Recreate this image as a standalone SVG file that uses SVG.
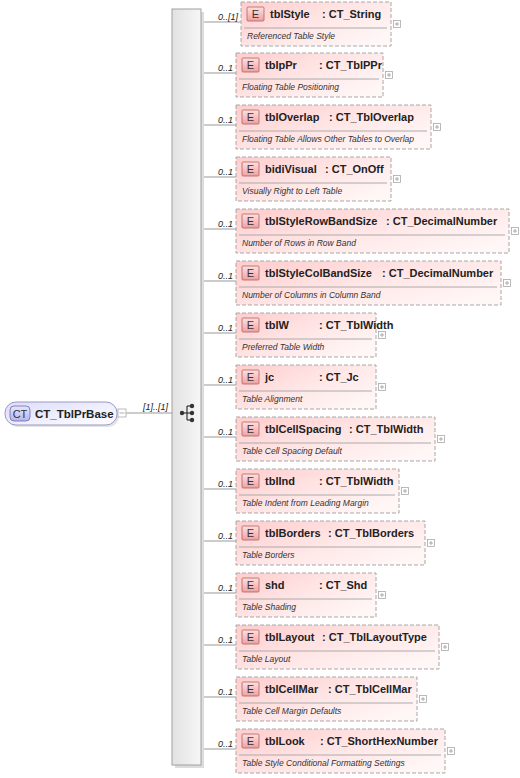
<svg xmlns="http://www.w3.org/2000/svg" width="520" height="778" viewBox="0 0 520 778">
<defs>
<linearGradient id="gEl" x1="0" y1="0" x2="1" y2="0.7">
<stop offset="0" stop-color="#ffcccc"/>
<stop offset="0.55" stop-color="#ffe6e6"/>
<stop offset="1" stop-color="#fff6f6"/>
</linearGradient>
<linearGradient id="gBadge" x1="0" y1="0" x2="0" y2="1">
<stop offset="0" stop-color="#ffe0e0"/>
<stop offset="1" stop-color="#f0a0a0"/>
</linearGradient>
<linearGradient id="gBar" x1="0" y1="0" x2="1" y2="0">
<stop offset="0" stop-color="#e2e2e2"/>
<stop offset="1" stop-color="#f6f6f6"/>
</linearGradient>
<linearGradient id="gCT" x1="0" y1="0" x2="1" y2="1">
<stop offset="0" stop-color="#dcdcfa"/>
<stop offset="1" stop-color="#ffffff"/>
</linearGradient>
<linearGradient id="gCTb" x1="0" y1="0" x2="0" y2="1">
<stop offset="0" stop-color="#e6e6ff"/>
<stop offset="1" stop-color="#b4b4ee"/>
</linearGradient>
</defs>
<style>
.el{fill:url(#gEl);stroke:#a8a8a8;stroke-width:1;stroke-dasharray:4,2}
.bd{fill:url(#gBadge);stroke:#b06060;stroke-width:0.8}
.bt{font-family:"Liberation Sans",Arial,sans-serif;font-size:11px;fill:#333;text-anchor:middle}
.nm{font-family:"Liberation Sans",Arial,sans-serif;font-size:11px;font-weight:bold;fill:#222}
.ds{font-family:"Liberation Sans",Arial,sans-serif;font-size:8.5px;font-style:italic;fill:#333}
.sep{stroke:#aaa;stroke-width:1}
.pl{fill:#fff;stroke:#aaa;stroke-width:0.8}
.pm{stroke:#999;stroke-width:0.8}
.cn{stroke:#999;stroke-width:1;fill:none}
.oc{font-family:"Liberation Sans",Arial,sans-serif;font-size:9px;font-style:italic;fill:#222;text-anchor:end}
</style>

<g id="connectors">
<line class="cn" x1="126" y1="413" x2="172" y2="413"/>
<text class="oc" x="168" y="410">[1]..[1]</text>
<path class="cn" d="M201,22H241 M201,73H236 M201,125H236 M201,177H236 M201,229H236 M201,281H236 M201,333H236 M201,385H236 M201,437H236 M201,489H236 M201,541H236 M201,593H236 M201,645H236 M201,697H236 M201,749H236"/>
<text class="oc" x="238" y="20">0..[1]</text>
<text class="oc" x="233" y="71">0..1</text>
<text class="oc" x="233" y="123">0..1</text>
<text class="oc" x="233" y="175">0..1</text>
<text class="oc" x="233" y="227">0..1</text>
<text class="oc" x="233" y="279">0..1</text>
<text class="oc" x="233" y="331">0..1</text>
<text class="oc" x="233" y="383">0..1</text>
<text class="oc" x="233" y="435">0..1</text>
<text class="oc" x="233" y="487">0..1</text>
<text class="oc" x="233" y="539">0..1</text>
<text class="oc" x="233" y="591">0..1</text>
<text class="oc" x="233" y="643">0..1</text>
<text class="oc" x="233" y="695">0..1</text>
<text class="oc" x="233" y="747">0..1</text>
</g>

<g id="CT_TblPrBase">
<rect x="7" y="404" width="112" height="23" rx="11" fill="#e4e4e4"/>
<rect x="5" y="402" width="112" height="23" rx="11" fill="url(#gCT)" stroke="#9a9ac4" stroke-width="1"/>
<rect x="10" y="406" width="20" height="15" rx="4" fill="url(#gCTb)" stroke="#6a6ab0" stroke-width="0.8"/>
<text class="bt" x="20" y="417.5">CT</text>
<text class="nm" x="35" y="418" style="font-size:11.5px">CT_TblPrBase</text>
<rect class="pl" x="118" y="409" width="8" height="8"/>
<line class="pm" x1="119.5" y1="413" x2="124.5" y2="413"/>
</g>

<g id="sequence">
<rect x="175" y="12" width="29" height="756" fill="#dcdcdc"/>
<rect x="172" y="9" width="29" height="756" fill="url(#gBar)" stroke="#a0a0a0" stroke-width="1"/>
<circle cx="182" cy="413" r="2.2" fill="#333"/>
<line x1="182" y1="413" x2="187" y2="413" stroke="#333" stroke-width="1.2"/>
<line x1="187" y1="406" x2="187" y2="420" stroke="#333" stroke-width="1.2"/>
<line x1="187" y1="406" x2="191" y2="406" stroke="#333" stroke-width="1.2"/>
<line x1="187" y1="413" x2="191" y2="413" stroke="#333" stroke-width="1.2"/>
<line x1="187" y1="420" x2="191" y2="420" stroke="#333" stroke-width="1.2"/>
<circle cx="192" cy="406" r="2.2" fill="#333"/>
<circle cx="192" cy="413" r="2.2" fill="#333"/>
<circle cx="192" cy="420" r="2.2" fill="#333"/>
</g>

<g id="tblStyle">
<rect class="el" x="241" y="2" width="150" height="44"/>
<rect class="bd" x="247" y="7" width="17" height="14" rx="1"/><text class="bt" x="255.5" y="18">E</text>
<text class="nm" x="270" y="18">tblStyle</text><text class="nm" x="322" y="18">: CT_String</text>
<line class="sep" x1="244" y1="28" x2="387" y2="28"/>
<text class="ds" x="247" y="39">Referenced Table Style</text>
<rect class="pl" x="393.5" y="20.5" width="7" height="7"/><path class="pm" d="M395,24H399M397,22V26"/>
</g>

<g id="tblpPr">
<rect class="el" x="236" y="53" width="147" height="44"/>
<rect class="bd" x="242" y="58" width="17" height="14" rx="1"/><text class="bt" x="250.5" y="69">E</text>
<text class="nm" x="265" y="69">tblpPr</text><text class="nm" x="319" y="69">: CT_TblPPr</text>
<line class="sep" x1="239" y1="79" x2="379" y2="79"/>
<text class="ds" x="242" y="90">Floating Table Positioning</text>
<rect class="pl" x="385.5" y="71.5" width="7" height="7"/><path class="pm" d="M387,75H391M389,73V77"/>
</g>

<g id="tblOverlap">
<rect class="el" x="236" y="105" width="195" height="44"/>
<rect class="bd" x="242" y="110" width="17" height="14" rx="1"/><text class="bt" x="250.5" y="121">E</text>
<text class="nm" x="265" y="121">tblOverlap</text><text class="nm" x="329" y="121">: CT_TblOverlap</text>
<line class="sep" x1="239" y1="131" x2="427" y2="131"/>
<text class="ds" x="242" y="142">Floating Table Allows Other Tables to Overlap</text>
<rect class="pl" x="433.5" y="123.5" width="7" height="7"/><path class="pm" d="M435,127H439M437,125V129"/>
</g>

<g id="bidiVisual">
<rect class="el" x="236" y="157" width="155" height="44"/>
<rect class="bd" x="242" y="162" width="17" height="14" rx="1"/><text class="bt" x="250.5" y="173">E</text>
<text class="nm" x="265" y="173">bidiVisual</text><text class="nm" x="325" y="173">: CT_OnOff</text>
<line class="sep" x1="239" y1="183" x2="387" y2="183"/>
<text class="ds" x="242" y="194">Visually Right to Left Table</text>
<rect class="pl" x="393.5" y="175.5" width="7" height="7"/><path class="pm" d="M395,179H399M397,177V181"/>
</g>

<g id="tblStyleRowBandSize">
<rect class="el" x="236" y="209" width="273" height="44"/>
<rect class="bd" x="242" y="214" width="17" height="14" rx="1"/><text class="bt" x="250.5" y="225">E</text>
<text class="nm" x="265" y="225">tblStyleRowBandSize</text><text class="nm" x="386" y="225">: CT_DecimalNumber</text>
<line class="sep" x1="239" y1="235" x2="505" y2="235"/>
<text class="ds" x="242" y="246">Number of Rows in Row Band</text>
<rect class="pl" x="511.5" y="227.5" width="7" height="7"/><path class="pm" d="M513,231H517M515,229V233"/>
</g>

<g id="tblStyleColBandSize">
<rect class="el" x="236" y="261" width="265" height="44"/>
<rect class="bd" x="242" y="266" width="17" height="14" rx="1"/><text class="bt" x="250.5" y="277">E</text>
<text class="nm" x="265" y="277">tblStyleColBandSize</text><text class="nm" x="382" y="277">: CT_DecimalNumber</text>
<line class="sep" x1="239" y1="287" x2="497" y2="287"/>
<text class="ds" x="242" y="298">Number of Columns in Column Band</text>
<rect class="pl" x="503.5" y="279.5" width="7" height="7"/><path class="pm" d="M505,283H509M507,281V285"/>
</g>

<g id="tblW">
<rect class="el" x="236" y="313" width="140" height="44"/>
<rect class="bd" x="242" y="318" width="17" height="14" rx="1"/><text class="bt" x="250.5" y="329">E</text>
<text class="nm" x="265" y="329">tblW</text><text class="nm" x="319" y="329">: CT_TblWidth</text>
<line class="sep" x1="239" y1="339" x2="372" y2="339"/>
<text class="ds" x="242" y="350">Preferred Table Width</text>
<rect class="pl" x="378.5" y="331.5" width="7" height="7"/><path class="pm" d="M380,335H384M382,333V337"/>
</g>

<g id="jc">
<rect class="el" x="236" y="365" width="140" height="44"/>
<rect class="bd" x="242" y="370" width="17" height="14" rx="1"/><text class="bt" x="250.5" y="381">E</text>
<text class="nm" x="265" y="381">jc</text><text class="nm" x="319" y="381">: CT_Jc</text>
<line class="sep" x1="239" y1="391" x2="372" y2="391"/>
<text class="ds" x="242" y="402">Table Alignment</text>
<rect class="pl" x="378.5" y="383.5" width="7" height="7"/><path class="pm" d="M380,387H384M382,385V389"/>
</g>

<g id="tblCellSpacing">
<rect class="el" x="236" y="417" width="199" height="44"/>
<rect class="bd" x="242" y="422" width="17" height="14" rx="1"/><text class="bt" x="250.5" y="433">E</text>
<text class="nm" x="265" y="433">tblCellSpacing</text><text class="nm" x="349" y="433">: CT_TblWidth</text>
<line class="sep" x1="239" y1="443" x2="431" y2="443"/>
<text class="ds" x="242" y="454">Table Cell Spacing Default</text>
<rect class="pl" x="437.5" y="435.5" width="7" height="7"/><path class="pm" d="M439,439H443M441,437V441"/>
</g>

<g id="tblInd">
<rect class="el" x="236" y="469" width="163" height="44"/>
<rect class="bd" x="242" y="474" width="17" height="14" rx="1"/><text class="bt" x="250.5" y="485">E</text>
<text class="nm" x="265" y="485">tblInd</text><text class="nm" x="319" y="485">: CT_TblWidth</text>
<line class="sep" x1="239" y1="495" x2="395" y2="495"/>
<text class="ds" x="242" y="506">Table Indent from Leading Margin</text>
<rect class="pl" x="401.5" y="487.5" width="7" height="7"/><path class="pm" d="M403,491H407M405,489V493"/>
</g>

<g id="tblBorders">
<rect class="el" x="236" y="521" width="189" height="44"/>
<rect class="bd" x="242" y="526" width="17" height="14" rx="1"/><text class="bt" x="250.5" y="537">E</text>
<text class="nm" x="265" y="537">tblBorders</text><text class="nm" x="328" y="537">: CT_TblBorders</text>
<line class="sep" x1="239" y1="547" x2="421" y2="547"/>
<text class="ds" x="242" y="558">Table Borders</text>
<rect class="pl" x="427.5" y="539.5" width="7" height="7"/><path class="pm" d="M429,543H433M431,541V545"/>
</g>

<g id="shd">
<rect class="el" x="236" y="573" width="140" height="44"/>
<rect class="bd" x="242" y="578" width="17" height="14" rx="1"/><text class="bt" x="250.5" y="589">E</text>
<text class="nm" x="265" y="589">shd</text><text class="nm" x="319" y="589">: CT_Shd</text>
<line class="sep" x1="239" y1="599" x2="372" y2="599"/>
<text class="ds" x="242" y="610">Table Shading</text>
<rect class="pl" x="378.5" y="591.5" width="7" height="7"/><path class="pm" d="M380,595H384M382,593V597"/>
</g>

<g id="tblLayout">
<rect class="el" x="236" y="625" width="203" height="44"/>
<rect class="bd" x="242" y="630" width="17" height="14" rx="1"/><text class="bt" x="250.5" y="641">E</text>
<text class="nm" x="265" y="641">tblLayout</text><text class="nm" x="322" y="641">: CT_TblLayoutType</text>
<line class="sep" x1="239" y1="651" x2="435" y2="651"/>
<text class="ds" x="242" y="662">Table Layout</text>
<rect class="pl" x="441.5" y="643.5" width="7" height="7"/><path class="pm" d="M443,647H447M445,645V649"/>
</g>

<g id="tblCellMar">
<rect class="el" x="236" y="677" width="181" height="44"/>
<rect class="bd" x="242" y="682" width="17" height="14" rx="1"/><text class="bt" x="250.5" y="693">E</text>
<text class="nm" x="265" y="693">tblCellMar</text><text class="nm" x="328" y="693">: CT_TblCellMar</text>
<line class="sep" x1="239" y1="703" x2="413" y2="703"/>
<text class="ds" x="242" y="714">Table Cell Margin Defaults</text>
<rect class="pl" x="419.5" y="695.5" width="7" height="7"/><path class="pm" d="M421,699H425M423,697V701"/>
</g>

<g id="tblLook">
<rect class="el" x="236" y="729" width="209" height="44"/>
<rect class="bd" x="242" y="734" width="17" height="14" rx="1"/><text class="bt" x="250.5" y="745">E</text>
<text class="nm" x="265" y="745">tblLook</text><text class="nm" x="320" y="745">: CT_ShortHexNumber</text>
<line class="sep" x1="239" y1="755" x2="441" y2="755"/>
<text class="ds" x="242" y="766">Table Style Conditional Formatting Settings</text>
<rect class="pl" x="447.5" y="747.5" width="7" height="7"/><path class="pm" d="M449,751H453M451,749V753"/>
</g>
</svg>
